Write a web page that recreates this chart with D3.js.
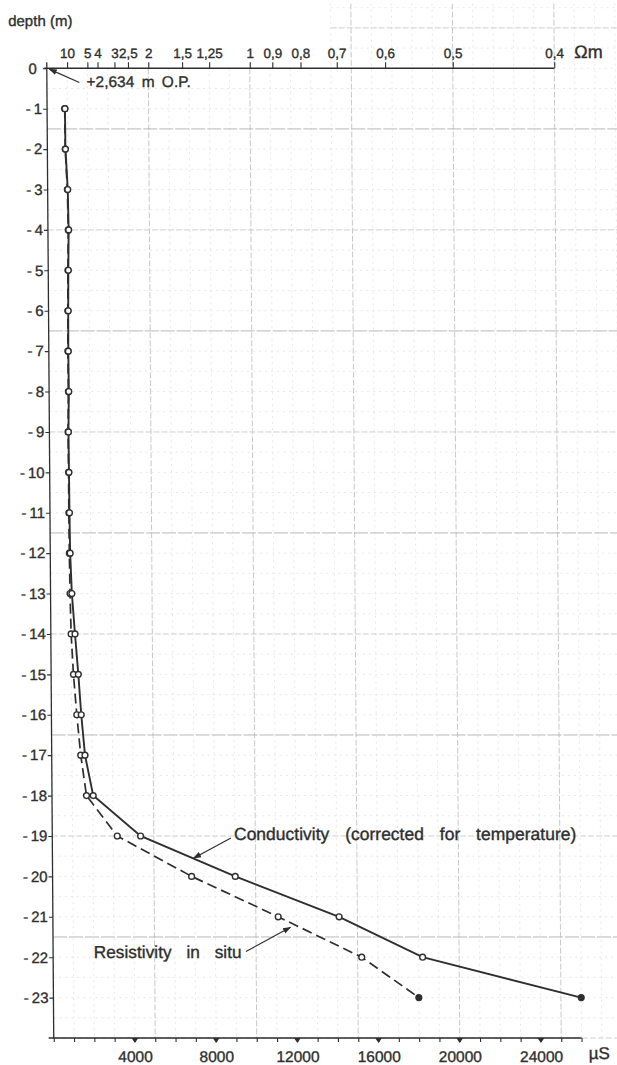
<!DOCTYPE html>
<html>
<head>
<meta charset="utf-8">
<script src="https://cdn.jsdelivr.net/npm/d3@7"></script>
<style>
  html, body { margin: 0; padding: 0; background: #fff; }
  svg { display: block; font-family: "Liberation Sans", Arial, sans-serif; }
  svg text { stroke: #2e2e2e; stroke-width: 0.35px; }
</style>
</head>
<body>
<div id="chart"></div>
<script>
// depth (m) below the reference level
const depths = [-1, -2, -3, -4, -5, -6, -7, -8, -9, -10, -11, -12,
  -13, -14, -15, -16, -17, -18, -19, -20, -21, -22, -23];
// conductivity corrected for temperature (µS)
const conductivity = [880, 890, 990, 1020, 990, 970, 960, 970, 940, 950, 960, 980,
  1050, 1190, 1340, 1470, 1640, 2030, 4350, 9000, 14100, 18200, 26000];
// resistivity in situ, shown as conductivity (µS)
const resistivity = [870, 880, 970, 1000, 970, 950, 940, 950, 920, 930, 930, 940,
  960, 1000, 1100, 1250, 1430, 1700, 3200, 6850, 11100, 15200, 18000];

const depthTicks = d3.range(0, -24, -1);
const sigmaLabels = [4000, 8000, 12000, 16000, 20000, 24000];
const rhoTicks = [10, 5, 4, 3, 2.5, 2, 1.5, 1.25, 1, 0.9, 0.8, 0.7, 0.6, 0.5, 0.4];
const rhoLabels = ["10", "5", "4", "3", "2,5", "2", "1,5", "1,25", "1", "0,9", "0,8", "0,7", "0,6", "0,5", "0,4"];

const width = 617, height = 1065;
const ink = "#2e2e2e";

const svg = d3.select("#chart").append("svg")
  .attr("width", width)
  .attr("height", height);

// the scanned sheet is slightly sheared
const g = svg.append("g").attr("transform", "skewX(0.41)");

const x = d3.scaleLinear().domain([0, 26000]).range([46.3, 574.1]);
const y = d3.scaleLinear().domain([0, -24]).range([68.3, 1038]);

// graph paper
const grid = g.append("g");
d3.range(1000, 28001, 1000).forEach(s => {
  const major = s % 5000 === 0;
  grid.append("line")
    .attr("x1", x(s)).attr("x2", x(s))
    .attr("y1", y(s >= 14000 ? 1.6 : 0)).attr("y2", y(-24))
    .attr("stroke", major ? "#c2c2c2" : "#e2e2e2")
    .attr("stroke-width", major ? 0.9 : 0.8)
    .attr("stroke-dasharray", major ? "6 2" : "2 4");
});
d3.range(1.5, -24.01, -0.5).forEach(d => {
  const k = (d + 1.5) / 2.5;
  const major = Math.abs(k - Math.round(k)) < 1e-6;
  const strong = major && Math.round(k) % 2 === 0 && d < 0;
  grid.append("line")
    .attr("x1", x(d > 0 ? 14000 : 0)).attr("x2", x(28500))
    .attr("y1", y(d)).attr("y2", y(d))
    .attr("stroke", strong ? "#b0b0b0" : major ? "#c8c8c8" : "#e2e2e2")
    .attr("stroke-width", major ? 0.9 : 0.8)
    .attr("stroke-dasharray", strong ? "14 2" : major ? "6 2" : "2 4");
});

// axes
const leftAxis = g.append("g")
  .attr("transform", `translate(${x(0)},0)`)
  .call(d3.axisLeft(y).tickValues(depthTicks).tickSize(4).tickPadding(1)
    .tickFormat(d => d === 0 ? "0" : "-\u2009" + Math.abs(d)));
leftAxis.select(".domain").remove();
leftAxis.selectAll("line").attr("stroke", ink).attr("stroke-width", 1.1);
leftAxis.selectAll("text").attr("fill", ink).attr("font-size", 15);
leftAxis.selectAll(".tick").filter(d => d === 0).select("text").attr("x", -10);
g.append("line")
  .attr("x1", x(0)).attr("x2", x(0))
  .attr("y1", y(0.15)).attr("y2", y(-24))
  .attr("stroke", ink).attr("stroke-width", 1.3);

const topAxis = g.append("g")
  .attr("transform", `translate(0,${y(0)})`)
  .call(d3.axisTop(x).tickValues(rhoTicks.map(r => 10000 / r)).tickSize(6).tickPadding(4)
    .tickFormat((d, i) => rhoLabels[i]));
topAxis.select(".domain").remove();
topAxis.selectAll("line").attr("stroke", ink).attr("stroke-width", 1.1);
topAxis.selectAll("text").attr("fill", ink).attr("font-size", 13.5);
g.append("line")
  .attr("x1", x(-150)).attr("x2", x(25000))
  .attr("y1", y(0)).attr("y2", y(0))
  .attr("stroke", ink).attr("stroke-width", 1.4);

const bottomAxis = g.append("g")
  .attr("transform", `translate(0,${y(-24)})`)
  .call(d3.axisBottom(x).tickValues(d3.range(0, 26001, 1000)).tickSize(4).tickPadding(9)
    .tickFormat(d => sigmaLabels.includes(d) ? String(d) : ""));
bottomAxis.select(".domain").remove();
bottomAxis.selectAll("line").attr("stroke", ink).attr("stroke-width", 1.1);
bottomAxis.selectAll("text").attr("fill", ink).attr("font-size", 15.5);
g.append("line")
  .attr("x1", x(-250)).attr("x2", x(26000))
  .attr("y1", y(-24)).attr("y2", y(-24))
  .attr("stroke", ink).attr("stroke-width", 1.4);
g.append("g").selectAll("path")
  .data(sigmaLabels)
  .join("path")
  .attr("d", d => `M${x(d) - 3.4},${y(-24)} L${x(d) + 3.4},${y(-24)} L${x(d)},${y(-24) + 5} Z`)
  .attr("fill", ink);

// units and titles
g.append("text").attr("x", 8).attr("y", 26).attr("font-size", 15).attr("fill", ink).text("depth (m)");
g.append("text").attr("x", x(25000) + 20).attr("y", y(0) - 10).attr("font-size", 18).attr("fill", ink).text("Ωm");
g.append("text").attr("x", x(26000) + 7).attr("y", y(-24) + 21).attr("font-size", 17).attr("fill", ink).text("µS");

// arrow markers
svg.append("defs").append("marker")
  .attr("id", "arrow")
  .attr("viewBox", "0 0 10 10")
  .attr("refX", 9).attr("refY", 5)
  .attr("markerWidth", 7).attr("markerHeight", 7)
  .attr("orient", "auto")
  .append("path").attr("d", "M0,1.5 L10,5 L0,8.5 Z").attr("fill", ink);

function leader(s1, d1, s2, d2) {
  g.append("line")
    .attr("x1", x(s1)).attr("y1", y(d1))
    .attr("x2", x(s2)).attr("y2", y(d2))
    .attr("stroke", ink).attr("stroke-width", 1.2)
    .attr("marker-end", "url(#arrow)");
}

g.append("text").attr("x", x(1950)).attr("y", y(-0.46)).attr("font-size", 15.5).attr("fill", ink)
  .style("word-spacing", "3px").text("+2,634 m O.P.");
leader(1600, -0.35, 120, -0.02);

// series
const line = d3.line().x(d => x(d[0])).y(d => y(d[1]));
const condPts = depths.map((d, i) => [conductivity[i], d]);
const resPts = depths.map((d, i) => [resistivity[i], d]);

g.append("path").datum(resPts)
  .attr("d", line).attr("fill", "none")
  .attr("stroke", ink).attr("stroke-width", 1.7)
  .attr("stroke-dasharray", "10 5");
g.append("path").datum(condPts)
  .attr("d", line).attr("fill", "none")
  .attr("stroke", ink).attr("stroke-width", 1.9);

[resPts, condPts].forEach(pts => {
  g.append("g").selectAll("circle")
    .data(pts)
    .join("circle")
    .attr("cx", d => x(d[0])).attr("cy", d => y(d[1]))
    .attr("r", 2.9)
    .attr("fill", (d, i) => i === pts.length - 1 ? ink : "#fff")
    .attr("stroke", ink).attr("stroke-width", 1.4);
});

// labels with leaders
g.append("text").attr("x", x(8950)).attr("y", y(-19.1)).attr("font-size", 17.5).attr("fill", ink)
  .style("word-spacing", "11px").text("Conductivity (corrected for temperature)");
leader(8800, -19.05, 6950, -19.55);

g.append("text").attr("x", x(2000)).attr("y", y(-22.03)).attr("font-size", 17.3).attr("fill", ink)
  .style("word-spacing", "10px").text("Resistivity in situ");
leader(9500, -21.86, 11700, -21.26);
</script>
</body>
</html>
